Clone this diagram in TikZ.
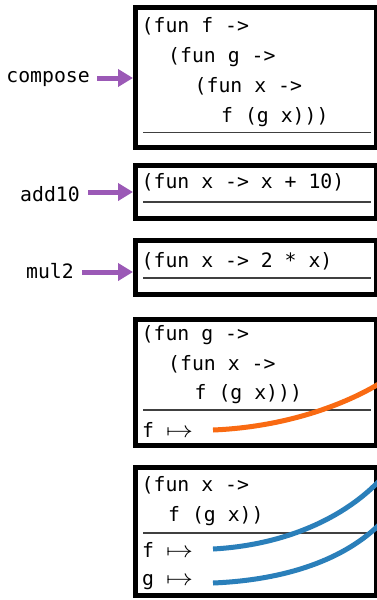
\documentclass[tikz,border=0pt]{standalone}
\usepackage{fontspec}
\setmonofont{DejaVu Sans Mono}
\usetikzlibrary{arrows.meta}
\definecolor{purp}{HTML}{9B59B6}
\definecolor{orng}{HTML}{F96A12}
\definecolor{blu}{HTML}{2A7FBA}
\newcommand{\mapsarrow}{\scalebox{1.3}[1.1]{$\mapsto$}}
\begin{document}
\begin{tikzpicture}[x=1pt,y=-1pt,
  fbox/.style={draw=black, line width=5pt, fill=white, inner sep=0pt, anchor=north west, minimum width=241pt},
  code/.style={font=\fontsize{19.8}{23}\selectfont\ttfamily, anchor=base west, inner sep=0pt},
  lbl/.style={font=\fontsize{19.8}{23}\selectfont\ttfamily, anchor=base east, inner sep=0pt},
  sepline/.style={draw=black!75, line width=1.4pt},
  parrow/.style={draw=purp, line width=5pt, -{Triangle[length=15pt,width=17pt]}},
  wire/.style={line width=5pt, line cap=butt}]
\useasboundingbox (0,0) rectangle (377,600);

% boxes
\node[fbox, minimum height=140pt] (box1) at (133,5) {};
\node[fbox, minimum height=53pt] (box2) at (133,163) {};
\node[fbox, minimum height=54pt] (box3) at (133,238) {};
\node[fbox, minimum height=126pt] (box4) at (133,317) {};
\node[fbox, minimum height=128pt] (box5) at (133,465) {};

% separators
\draw[sepline] (143,132.5) -- (371,132.5);
\draw[sepline] (143,202) -- (371,202);
\draw[sepline] (143,278) -- (371,278);
\draw[sepline] (143,410) -- (371,410);
\draw[sepline] (143,533) -- (371,533);

% box 1 code
\node[code] (c11) at (141.5,32) {(fun f ->};
\node[code] (c12) at (168,62) {(fun g ->};
\node[code] (c13) at (194.5,92) {(fun x ->};
\node[code] (c14) at (221,122) {f (g x)))};
% box 2, 3
\node[code] (c21) at (141.5,188) {(fun x -> x + 10)};
\node[code] (c31) at (141.5,267) {(fun x -> 2 * x)};
% box 4
\node[code] (c41) at (141.5,340) {(fun g ->};
\node[code] (c42) at (168,370) {(fun x ->};
\node[code] (c43) at (194.5,399) {f (g x)))};
\node[code] (b41) at (142,437) {f \mapsarrow};
% box 5
\node[code] (c51) at (141.5,491) {(fun x ->};
\node[code] (c52) at (168,521) {f (g x))};
\node[code] (b51) at (142,557) {f \mapsarrow};
\node[code] (b52) at (142,585) {g \mapsarrow};

% labels and arrows
\node[lbl] (lcompose) at (90,82) {compose};
\node[lbl] (ladd) at (80,201) {add10};
\node[lbl] (lmul) at (74,278) {mul2};
\coordinate (a1) at (97,78);
\coordinate (a2) at (88,192);
\coordinate (a3) at (82,272);
\draw[parrow] (a1) -- (a1 -| box1.west);
\draw[parrow] (a2) -- (a2 -| box2.west);
\draw[parrow] (a3) -- (a3 -| box3.west);

% wires
\coordinate (o1) at (213,430);
\coordinate (o2) at (382,382);
\draw[wire, orng] (o1) .. controls (285,427) and (345,405) .. (o2);
\coordinate (p1) at (213,549);
\coordinate (p2) at (382,478);
\draw[wire, blu] (p1) .. controls (285,545) and (345,518) .. (p2);
\coordinate (q1) at (213,583);
\coordinate (q2) at (382,522);
\draw[wire, blu] (q1) .. controls (285,580) and (345,560) .. (q2);
\end{tikzpicture}
\end{document}
